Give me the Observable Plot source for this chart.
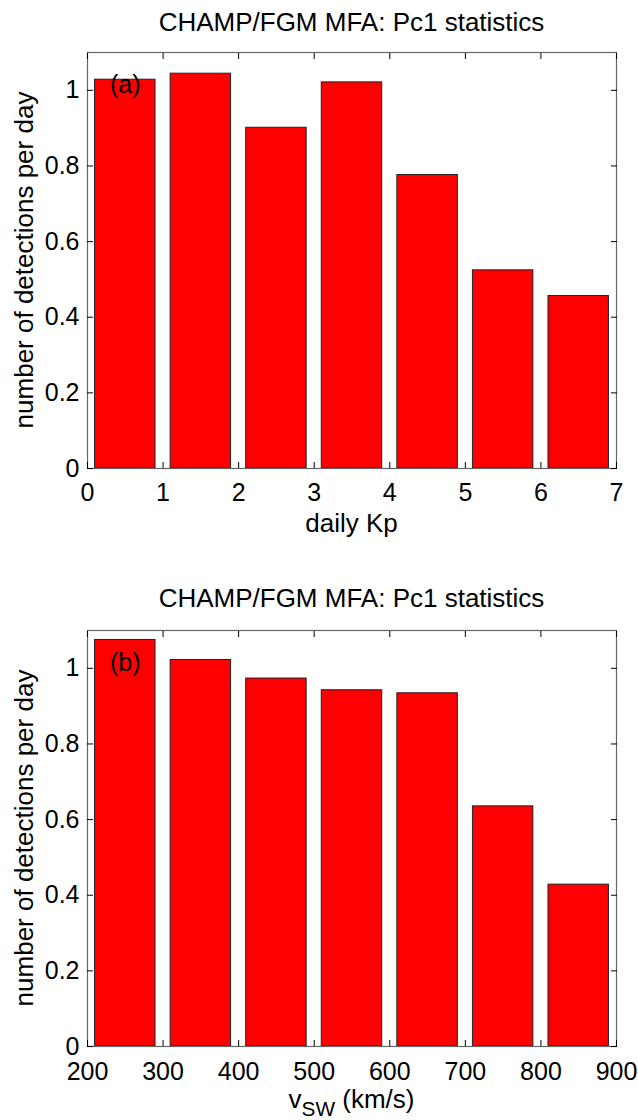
<!DOCTYPE html>
<html>
<head>
<meta charset="utf-8">
<script src="https://cdn.jsdelivr.net/npm/d3@7"></script>
<script src="https://cdn.jsdelivr.net/npm/@observablehq/plot@0.6"></script>
<style>
  html, body { margin: 0; padding: 0; background: #fff; }
  #wrap { width: 638px; }
  svg { display: block; }
</style>
</head>
<body>
<div id="wrap"></div>
<script>
// ---- data ----
const titleText = "CHAMP/FGM MFA: Pc1 statistics";
const yLabel = "number of detections per day";

// panel (a): daily Kp bins
const kpBinStart = [0, 1, 2, 3, 4, 5, 6];
const kpRate = [1.028, 1.044, 0.901, 1.021, 0.776, 0.524, 0.456];
const kpTicks = [0, 1, 2, 3, 4, 5, 6, 7];

// panel (b): solar wind speed bins
const vswBinStart = [200, 300, 400, 500, 600, 700, 800];
const vswRate = [1.075, 1.022, 0.973, 0.942, 0.934, 0.635, 0.428];
const vswTicks = [200, 300, 400, 500, 600, 700, 800, 900];

const yTicks = [0, 0.2, 0.4, 0.6, 0.8, 1];
const yTickLabels = ["0", "0.2", "0.4", "0.6", "0.8", "1"];

const FONT = "'Liberation Sans', Arial, Helvetica, sans-serif";
const FS = 25;      // tick labels
const FSL = 26;     // titles & axis labels

function panel({starts, values, binWidth, xDomain, xTicks, tag, marginTop, marginBottom, height, titleY, xLabelY, xLabelParts, xPad}) {
  const data = starts.map((s, i) => ({x1: s + 0.1 * binWidth, x2: s + 0.9 * binWidth, y: values[i]}));
  const fmtY = d => yTickLabels[yTicks.indexOf(d)] ?? String(d);
  const chart = Plot.plot({
    width: 638,
    height,
    marginLeft: 87,
    marginRight: 22,
    marginTop,
    marginBottom,
    style: {fontFamily: FONT, fontSize: FS + "px", color: "#000", background: "#fff"},
    x: {domain: xDomain},
    y: {domain: [0, 1.1]},
    marks: [
      Plot.rectY(data, {x1: "x1", x2: "x2", y: "y", fill: "#ff0000", stroke: "#222", strokeWidth: 1, inset: 0}),
      Plot.frame({stroke: "#666", strokeWidth: 1.2}),
      Plot.axisX({ticks: xTicks, tickSize: -6, tickPadding: xPad, tickFormat: d => String(d), label: null, stroke: "#000", fontSize: FS}),
      Plot.axisX({ticks: xTicks, anchor: "top", tickSize: -6, tickFormat: () => "", label: null, stroke: "#000"}),
      Plot.axisY({ticks: yTicks, tickSize: -6, tickPadding: 14, tickFormat: fmtY, label: null, stroke: "#000", fontSize: FS}),
      Plot.axisY({ticks: yTicks, anchor: "right", tickSize: -6, tickFormat: () => "", label: null, stroke: "#000"}),
      Plot.text([tag], {x: xDomain[0] + 0.5 * binWidth, y: 1.015, text: d => d, fontSize: FS, fill: "#000", fontFamily: FONT})
    ]
  });
  const svg = d3.select(chart.tagName.toLowerCase() === "svg" ? chart : chart.querySelector("svg"));
  // title
  svg.append("text")
    .attr("x", 87 + (638 - 87 - 22) / 2)
    .attr("y", titleY)
    .attr("text-anchor", "middle")
    .style("font-family", FONT).style("font-size", FSL + "px").attr("fill", "#000")
    .text(titleText);
  // x label
  const xl = svg.append("text")
    .attr("x", 87 + (638 - 87 - 22) / 2)
    .attr("y", xLabelY)
    .attr("text-anchor", "middle")
    .style("font-family", FONT).style("font-size", FSL + "px").attr("fill", "#000");
  xLabelParts.forEach(p => {
    const t = xl.append("tspan").text(p.text);
    if (p.sub) t.attr("baseline-shift", "-40%").style("font-size", (FSL * 0.8) + "px");
  });
  // y label
  const cy = marginTop + (height - marginTop - marginBottom) / 2;
  svg.append("text")
    .attr("transform", `translate(33,${cy}) rotate(-90)`)
    .attr("text-anchor", "middle")
    .style("font-family", FONT).style("font-size", FSL + "px").attr("fill", "#000")
    .text(yLabel);
  return chart;
}

const wrap = document.getElementById("wrap");
wrap.appendChild(panel({
  starts: kpBinStart, values: kpRate, binWidth: 1, xDomain: [0, 7], xTicks: kpTicks,
  tag: "(a)", marginTop: 52, marginBottom: 92, height: 560, titleY: 31, xLabelY: 532,
  xLabelParts: [{text: "daily Kp"}], xPad: 21
}));
wrap.appendChild(panel({
  starts: vswBinStart, values: vswRate, binWidth: 100, xDomain: [200, 900], xTicks: vswTicks,
  tag: "(b)", marginTop: 70, marginBottom: 74, height: 560, titleY: 47, xLabelY: 548,
  xLabelParts: [{text: "v"}, {text: "SW", sub: true}, {text: " (km/s)"}], xPad: 22
}));
</script>
</body>
</html>
